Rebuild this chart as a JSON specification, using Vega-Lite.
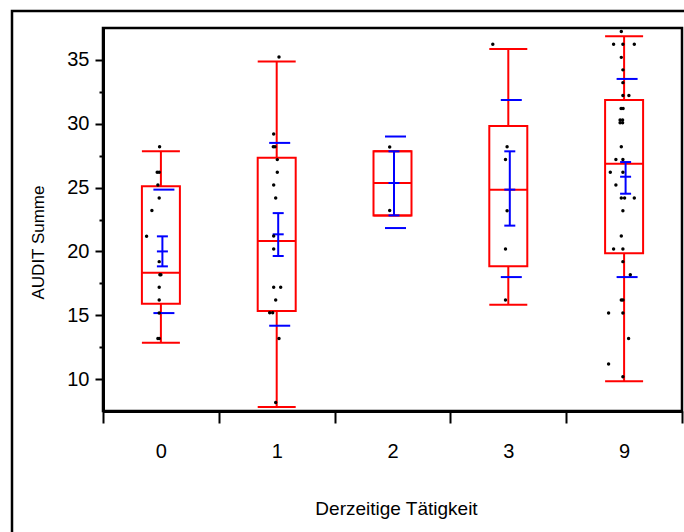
{
  "$schema": "https://vega.github.io/schema/vega-lite/v6.json",
  "width": 579,
  "height": 383,
  "autosize": {"type": "none"},
  "padding": {"left": 103, "top": 28, "right": 2, "bottom": 121},
  "background": "white",
  "config": {
    "view": {"stroke": "black", "strokeWidth": 2.5},
    "font": "Liberation Sans, Arial, sans-serif",
    "legend": {"strokeWidth": 2.5}
  },
  "resolve": {"axis": {"y": "independent"}},
  "datasets": {
    "stats": [
      {"g": "0", "lo": 12.85, "q1": 15.9, "median": 18.33, "q3": 25.1, "hi": 27.84, "sdlo": 15.17, "sdhi": 24.84, "cilo": 18.83, "mean": 20.0, "cihi": 21.18},
      {"g": "1", "lo": 7.81, "q1": 15.33, "median": 20.82, "q3": 27.34, "hi": 34.88, "sdlo": 14.18, "sdhi": 28.5, "cilo": 19.64, "mean": 21.34, "cihi": 23.0},
      {"g": "2", "lo": 22.82, "q1": 22.82, "median": 25.36, "q3": 27.84, "hi": 27.84, "sdlo": 21.83, "sdhi": 29.0, "cilo": 22.82, "mean": 25.36, "cihi": 27.84},
      {"g": "3", "lo": 15.82, "q1": 18.83, "median": 24.84, "q3": 29.83, "hi": 35.86, "sdlo": 17.99, "sdhi": 31.86, "cilo": 22.02, "mean": 24.84, "cihi": 27.84},
      {"g": "9", "lo": 9.84, "q1": 19.85, "median": 26.87, "q3": 31.86, "hi": 36.86, "sdlo": 17.99, "sdhi": 33.51, "cilo": 24.52, "mean": 25.85, "cihi": 27.0}
    ],
    "points": [
      {"g": "0", "v": 28.2, "j": -1.3},
      {"g": "0", "v": 26.2, "j": -3.7},
      {"g": "0", "v": 26.2, "j": -1.7},
      {"g": "0", "v": 25.2, "j": -3},
      {"g": "0", "v": 24.18, "j": -1.7},
      {"g": "0", "v": 23.2, "j": -9},
      {"g": "0", "v": 21.18, "j": -14.3},
      {"g": "0", "v": 19.2, "j": -1.7},
      {"g": "0", "v": 18.17, "j": -1},
      {"g": "0", "v": 18.17, "j": 0},
      {"g": "0", "v": 17.2, "j": -1.7},
      {"g": "0", "v": 16.19, "j": -1.7},
      {"g": "0", "v": 15.17, "j": -1.7},
      {"g": "0", "v": 13.18, "j": -3},
      {"g": "0", "v": 13.18, "j": -1.7},
      {"g": "1", "v": 35.23, "j": 2.3},
      {"g": "1", "v": 29.2, "j": -3},
      {"g": "1", "v": 28.2, "j": -3.4},
      {"g": "1", "v": 28.2, "j": -1.7},
      {"g": "1", "v": 27.19, "j": 0.6},
      {"g": "1", "v": 26.2, "j": 0.6},
      {"g": "1", "v": 25.2, "j": -3},
      {"g": "1", "v": 24.18, "j": -1},
      {"g": "1", "v": 21.2, "j": -3},
      {"g": "1", "v": 20.19, "j": -3},
      {"g": "1", "v": 17.19, "j": -3},
      {"g": "1", "v": 17.19, "j": 4},
      {"g": "1", "v": 16.19, "j": -1},
      {"g": "1", "v": 15.2, "j": -7},
      {"g": "1", "v": 15.2, "j": -4},
      {"g": "1", "v": 13.18, "j": 2.3},
      {"g": "1", "v": 8.17, "j": -1},
      {"g": "2", "v": 28.18, "j": -2.8},
      {"g": "2", "v": 23.2, "j": -2.8},
      {"g": "3", "v": 36.23, "j": -15.5},
      {"g": "3", "v": 28.2, "j": -1.2},
      {"g": "3", "v": 27.2, "j": -2.8},
      {"g": "3", "v": 23.18, "j": -1.2},
      {"g": "3", "v": 20.19, "j": -2.8},
      {"g": "3", "v": 16.19, "j": -2.8},
      {"g": "9", "v": 37.23, "j": -2.8},
      {"g": "9", "v": 36.23, "j": -10.5},
      {"g": "9", "v": 36.23, "j": -1.2},
      {"g": "9", "v": 36.23, "j": 10.2},
      {"g": "9", "v": 35.2, "j": -2.8},
      {"g": "9", "v": 34.22, "j": -1.2},
      {"g": "9", "v": 33.22, "j": -1.2},
      {"g": "9", "v": 32.22, "j": -1.2},
      {"g": "9", "v": 32.22, "j": 4.8},
      {"g": "9", "v": 31.2, "j": -3},
      {"g": "9", "v": 31.2, "j": -1},
      {"g": "9", "v": 30.3, "j": -4},
      {"g": "9", "v": 30.3, "j": -1.5},
      {"g": "9", "v": 30.08, "j": -4},
      {"g": "9", "v": 30.08, "j": -1.5},
      {"g": "9", "v": 28.2, "j": -2.8},
      {"g": "9", "v": 27.2, "j": -8.2},
      {"g": "9", "v": 27.2, "j": -1.2},
      {"g": "9", "v": 26.2, "j": -13.8},
      {"g": "9", "v": 26.2, "j": -1.2},
      {"g": "9", "v": 25.2, "j": -8.2},
      {"g": "9", "v": 24.18, "j": -2.8},
      {"g": "9", "v": 24.18, "j": 0.5},
      {"g": "9", "v": 24.18, "j": 10.2},
      {"g": "9", "v": 23.18, "j": -1.2},
      {"g": "9", "v": 21.2, "j": -2.8},
      {"g": "9", "v": 20.19, "j": -10.5},
      {"g": "9", "v": 20.19, "j": -1.2},
      {"g": "9", "v": 19.2, "j": -1.2},
      {"g": "9", "v": 18.17, "j": 6.2},
      {"g": "9", "v": 16.19, "j": -2.8},
      {"g": "9", "v": 16.19, "j": -1.2},
      {"g": "9", "v": 15.17, "j": -15.5},
      {"g": "9", "v": 15.17, "j": -1.2},
      {"g": "9", "v": 13.18, "j": 4.5},
      {"g": "9", "v": 11.18, "j": -15.5},
      {"g": "9", "v": 10.18, "j": -1.2}
    ]
  },
  "encoding": {
    "x": {
      "field": "g",
      "type": "nominal",
      "scale": {"domain": ["0", "1", "2", "3", "9"], "paddingInner": 0, "paddingOuter": 0},
      "axis": {
        "title": "Derzeitige Tätigkeit",
        "labelAngle": 0,
        "tickBand": "extent",
        "tickSize": 12,
        "tickWidth": 2,
        "tickColor": "black",
        "domainColor": "black",
        "domainWidth": 3,
        "labelFontSize": 20,
        "labelColor": "black",
        "labelBaseline": "alphabetic",
        "labelPadding": 34,
        "titleFontSize": 19,
        "titleFontWeight": "normal",
        "titleColor": "black",
        "titleBaseline": "alphabetic",
        "titleX": 293,
        "titleY": 103,
        "titleAnchor": "middle",
        "grid": false
      }
    }
  },
  "layer": [
    {
      "data": {"name": "stats"},
      "mark": {"type": "rule", "color": "#FF0000", "strokeWidth": 2},
      "encoding": {
        "y": {
          "field": "lo",
          "type": "quantitative",
          "scale": {"domain": [7.5, 37.5], "nice": false, "zero": false},
          "axis": {
            "orient": "left",
            "title": "AUDIT Summe",
            "values": [10, 15, 20, 25, 30, 35],
            "format": "d",
            "tickSize": 8,
            "tickWidth": 2,
            "tickColor": "black",
            "domainColor": "black",
            "domainWidth": 3,
            "labelFontSize": 20,
            "labelColor": "black",
            "labelPadding": 6,
            "titleFontSize": 17,
            "titleFontWeight": "normal",
            "titleColor": "black",
            "titleAngle": -90,
            "titleBaseline": "alphabetic",
            "titleX": -60,
            "titleY": 214,
            "titleAnchor": "middle",
            "grid": false
          }
        },
        "y2": {"field": "hi"}
      }
    },
    {
      "data": {"name": "stats"},
      "mark": {"type": "bar", "fill": "white", "stroke": "#FF0000", "strokeWidth": 2, "size": 38},
      "encoding": {
        "y": {
          "field": "q1",
          "type": "quantitative",
          "axis": {
            "orient": "left",
            "values": [12.5, 17.5, 22.5, 27.5, 32.5],
            "labels": false,
            "domain": false,
            "tickSize": 4,
            "tickWidth": 2,
            "tickColor": "black",
            "title": null,
            "grid": false
          }
        },
        "y2": {"field": "q3"}
      }
    },
    {
      "data": {"name": "stats"},
      "mark": {"type": "tick", "color": "#FF0000", "size": 38, "thickness": 2, "opacity": 1},
      "encoding": {"y": {"field": "lo", "type": "quantitative", "axis": null}}
    },
    {
      "data": {"name": "stats"},
      "mark": {"type": "tick", "color": "#FF0000", "size": 38, "thickness": 2, "opacity": 1},
      "encoding": {"y": {"field": "hi", "type": "quantitative", "axis": null}}
    },
    {
      "data": {"name": "stats"},
      "mark": {"type": "tick", "color": "#FF0000", "size": 38, "thickness": 2, "opacity": 1},
      "encoding": {"y": {"field": "median", "type": "quantitative", "axis": null}}
    },
    {
      "data": {"name": "stats"},
      "mark": {"type": "tick", "color": "#0000FF", "size": 21, "thickness": 2, "opacity": 1, "xOffset": 3},
      "encoding": {"y": {"field": "sdlo", "type": "quantitative", "axis": null}}
    },
    {
      "data": {"name": "stats"},
      "mark": {"type": "tick", "color": "#0000FF", "size": 21, "thickness": 2, "opacity": 1, "xOffset": 3},
      "encoding": {"y": {"field": "sdhi", "type": "quantitative", "axis": null}}
    },
    {
      "data": {"name": "stats"},
      "mark": {"type": "rule", "color": "#0000FF", "strokeWidth": 2, "xOffset": 1.5},
      "encoding": {
        "y": {"field": "cilo", "type": "quantitative", "axis": null},
        "y2": {"field": "cihi"}
      }
    },
    {
      "data": {"name": "stats"},
      "mark": {"type": "tick", "color": "#0000FF", "size": 11, "thickness": 2, "opacity": 1, "xOffset": 1.5},
      "encoding": {"y": {"field": "cilo", "type": "quantitative", "axis": null}}
    },
    {
      "data": {"name": "stats"},
      "mark": {"type": "tick", "color": "#0000FF", "size": 11, "thickness": 2, "opacity": 1, "xOffset": 1.5},
      "encoding": {"y": {"field": "mean", "type": "quantitative", "axis": null}}
    },
    {
      "data": {"name": "stats"},
      "mark": {"type": "tick", "color": "#0000FF", "size": 11, "thickness": 2, "opacity": 1, "xOffset": 1.5},
      "encoding": {"y": {"field": "cihi", "type": "quantitative", "axis": null}}
    },
    {
      "data": {"name": "points"},
      "mark": {"type": "circle", "size": 12, "opacity": 1},
      "encoding": {
        "y": {"field": "v", "type": "quantitative", "axis": null},
        "xOffset": {"field": "j", "type": "quantitative", "scale": {"domain": [-20, 20], "range": [37.9, 77.9]}},
        "color": {
          "datum": "Punkte",
          "scale": {"range": ["black"]},
          "legend": {
            "orient": "none",
            "legendX": -91,
            "legendY": -17,
            "padding": 700,
            "strokeColor": "black",
            "symbolOpacity": 0,
            "symbolSize": 0,
            "labelOpacity": 0,
            "labelExpr": "''",
            "title": null
          }
        }
      }
    }
  ]
}
